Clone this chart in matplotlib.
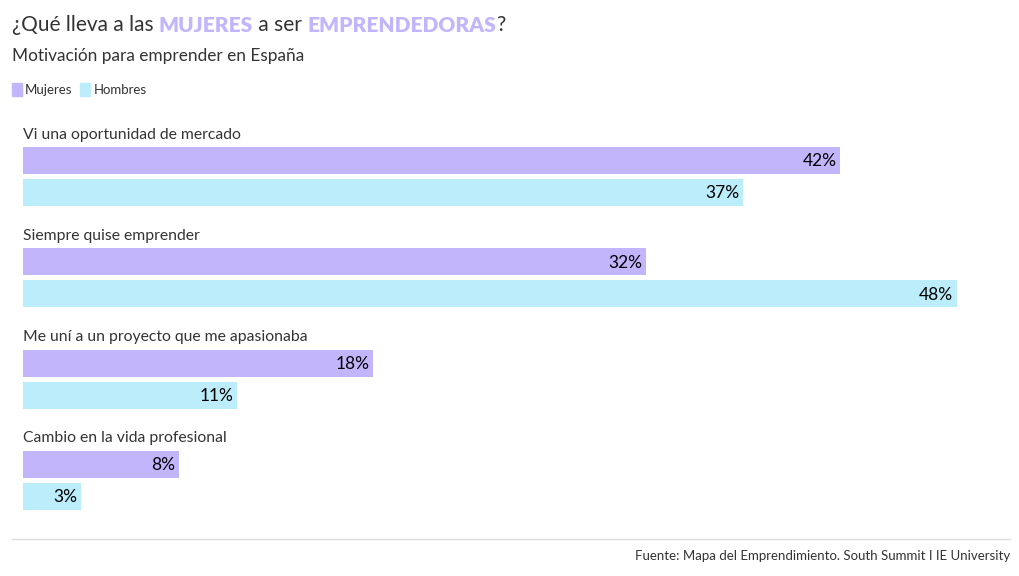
import matplotlib
matplotlib.use('Agg')
import matplotlib.pyplot as plt
from matplotlib.patches import Rectangle
from matplotlib.lines import Line2D

plt.rcParams['font.family'] = ['Lato', 'DejaVu Sans']

categorias = ['Vi una oportunidad de mercado', 'Siempre quise emprender',
              'Me uní a un proyecto que me apasionaba', 'Cambio en la vida profesional']
mujeres = [42, 32, 18, 8]
hombres = [37, 48, 11, 3]

c_muj = '#c3b5fb'
c_hom = '#bcedfb'

W, H = 1020, 576
fig = plt.figure(figsize=(W / 100, H / 100), dpi=100)

# axes in pixel-like coordinates
x0, x1 = 23, 1010
y_top, y_bot = 120, 520
ax = fig.add_axes([x0 / W, 1 - y_bot / H, (x1 - x0) / W, (y_bot - y_top) / H])
px_per_pct = 19.46
ax.set_xlim(0, (x1 - x0) / px_per_pct)
ax.set_ylim(y_bot, y_top)
ax.axis('off')

pitch = 101.3
bh = 27
for i, cat in enumerate(categorias):
    yp = 160.5 + pitch * i
    yh = yp + 32
    ax.barh(yp, mujeres[i], height=bh, color=c_muj)
    ax.barh(yh, hombres[i], height=bh, color=c_hom)
    ax.text(mujeres[i] - 0.2, yp + 1, f'{mujeres[i]}%', ha='right', va='center',
            fontsize=12.5, color='#000000')
    ax.text(hombres[i] - 0.2, yh + 1, f'{hombres[i]}%', ha='right', va='center',
            fontsize=12.5, color='#000000')
    ax.text(0, yp - 26, cat, ha='left', va='center', fontsize=11.3, color='#333333')

# title with coloured words
fig.canvas.draw()
r = fig.canvas.get_renderer()
partes = [('¿Qué lleva a las ', '#333333', 'normal'), ('MUJERES', c_muj, 'heavy'),
          (' a ser ', '#333333', 'normal'), ('EMPRENDEDORAS', c_muj, 'heavy'),
          ('?', '#333333', 'normal')]
x = 12
for txt, col, wt in partes:
    t = fig.text(x / W, 1 - 25 / H, txt, fontsize=15, color=col, fontweight=wt,
                 va='center', ha='left')
    bb = t.get_window_extent(renderer=r)
    x += bb.width

fig.text(12 / W, 1 - 56 / H, 'Motivación para emprender en España', fontsize=12.4,
         color='#333333', va='center')

# legend
lx = 12
for nombre, col in [('Mujeres', c_muj), ('Hombres', c_hom)]:
    fig.patches.append(Rectangle((lx / W, 1 - 96 / H), 10 / W, 13 / H,
                                 transform=fig.transFigure, color=col))
    t = fig.text((lx + 13) / W, 1 - 89.5 / H, nombre, fontsize=9.5, color='#333333',
                 va='center')
    lx += 13 + t.get_window_extent(renderer=r).width + 8

fig.lines.append(Line2D([12 / W, 1010 / W], [1 - 539 / H, 1 - 539 / H],
                        transform=fig.transFigure, color='#dddddd', lw=1))
fig.text(1010 / W, 1 - 556 / H, 'Fuente: Mapa del Emprendimiento. South Summit I IE University',
         fontsize=9.5, color='#333333', ha='right', va='center')

fig.savefig('out.png', dpi=100, facecolor='white')
